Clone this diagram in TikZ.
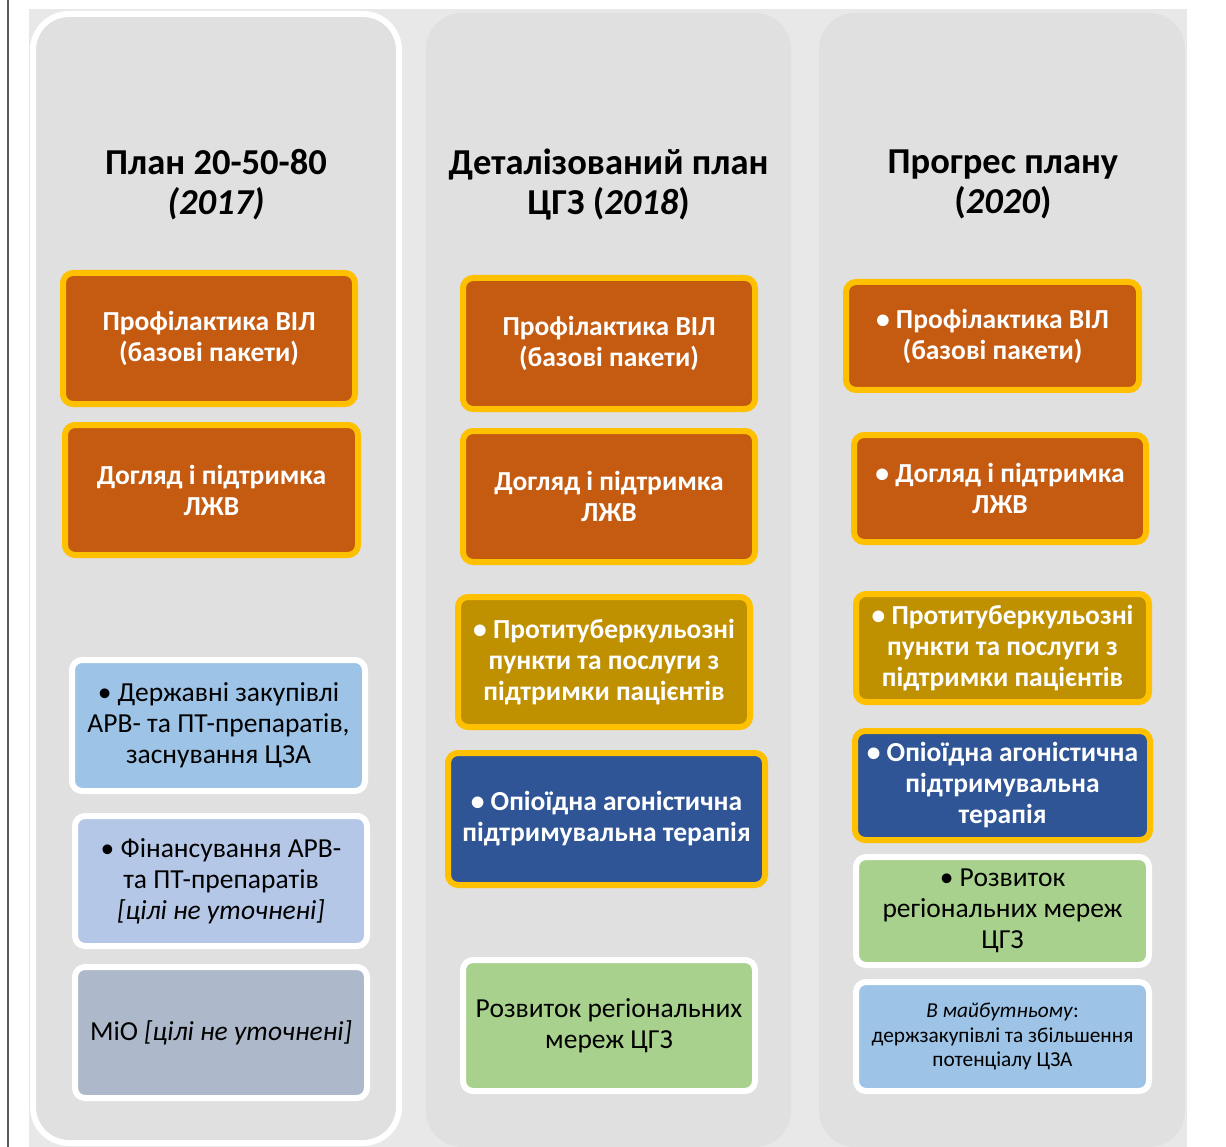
\documentclass[tikz,border=0pt]{standalone}
\usepackage{fontspec}
\setmainfont{Carlito}
\definecolor{bgg}{HTML}{E8E8E8}
\definecolor{colg}{HTML}{E0E0E0}
\definecolor{orng}{HTML}{C55A11}
\definecolor{ybord}{HTML}{FFC000}
\definecolor{gold}{HTML}{BF9000}
\definecolor{dblue}{HTML}{2F5597}
\definecolor{grn}{HTML}{A9D18E}
\definecolor{lblue}{HTML}{9DC3E6}
\definecolor{pblue}{HTML}{B4C7E7}
\definecolor{sblue}{HTML}{ADB9CA}
\definecolor{lineg}{HTML}{5A5A5A}
\begin{document}
\begin{tikzpicture}[x=1pt,y=-1pt,
  box/.style={rounded corners=10pt, line width=6pt, align=center, inner sep=0pt},
  hot/.style={box, draw=ybord, text=white, font=\fontsize{27.5}{31}\selectfont\bfseries},
  cool/.style={box, draw=white, text=black, font=\fontsize{27.5}{31}\selectfont},
  small/.style={box, draw=white, text=black, font=\fontsize{21.3}{24}\selectfont},
  title/.style={align=center, inner sep=0pt, text=black, font=\fontsize{36.5}{40}\selectfont\bfseries},
  column/.style={rounded corners=36pt}]
\useasboundingbox (0,0) rectangle (1226,1147);
\fill[white] (0,0) rectangle (1226,1147);
\fill[bgg] (29,9) rectangle (1187,1147);
\draw[lineg, line width=2pt] (8,0) -- (8,1147);
% columns
\draw[column, fill=colg, draw=white, line width=6pt] (33,14) rectangle (399,1143);
\fill[column, colg] (426,13) rectangle (791,1147);
\fill[column, colg] (819,13) rectangle (1185,1147);
% titles
\node[title] (t1) at (216,184.5) {План 20-50-80\\\textit{(2017)}};
\node[title] (t2) at (608.5,184.5) {Деталізований план\\ЦГЗ (\textit{2018})};
\node[title] (t3) at (1003,184.5) {Прогрес плану\\(\textit{2020})};
% column 1
\node[hot, fill=orng, minimum width=292pt, minimum height=131pt] (a1) at (209,338.5) {Профілактика ВІЛ\\(базові пакети)};
\node[hot, fill=orng, minimum width=293pt, minimum height=130pt] (a2) at (211.5,490) {Догляд і підтримка\\ЛЖВ};
\node[cool, fill=lblue, minimum width=293pt, minimum height=131pt] (a3) at (218.5,725.5) {• Державні закупівлі\\АРВ- та ПТ-препаратів,\\заснування ЦЗА};
\node[cool, fill=pblue, minimum width=292pt, minimum height=130pt] (a4) at (221,881) {• Фінансування АРВ-\\та ПТ-препаратів\\\textit{[цілі не уточнені]}};
\node[cool, fill=sblue, minimum width=292pt, minimum height=131pt] (a5) at (221,1032.5) {МіО \textit{[цілі не уточнені]}};
% column 2
\node[hot, fill=orng, minimum width=292pt, minimum height=131pt] (b1) at (609,343.5) {Профілактика ВІЛ\\(базові пакети)};
\node[hot, fill=orng, minimum width=292pt, minimum height=131pt] (b2) at (609,496.5) {Догляд і підтримка\\ЛЖВ};
\node[hot, fill=gold, minimum width=292pt, minimum height=130pt] (b3) at (604,662) {• Протитуберкульозні\\пункти та послуги з\\підтримки пацієнтів};
\node[hot, fill=dblue, minimum width=317pt, minimum height=132pt] (b4) at (606.5,819) {• Опіоїдна агоністична\\підтримувальна терапія};
\node[cool, fill=grn, minimum width=292pt, minimum height=131pt] (b5) at (609,1025.5) {Розвиток регіональних\\мереж ЦГЗ};
% column 3
\node[hot, fill=orng, minimum width=293pt, minimum height=108pt] (c1) at (992.5,336) {• Профілактика ВІЛ\\(базові пакети)};
\node[hot, fill=orng, minimum width=292pt, minimum height=107pt] (c2) at (1000,488.5) {• Догляд і підтримка\\ЛЖВ};
\node[hot, fill=gold, minimum width=293pt, minimum height=108pt] (c3) at (1002.5,648) {• Протитуберкульозні\\пункти та послуги з\\підтримки пацієнтів};
\node[hot, fill=dblue, minimum width=295pt, minimum height=109pt] (c4) at (1002.5,785.5) {• Опіоїдна агоністична\\підтримувальна\\терапія};
\node[cool, fill=grn, minimum width=293pt, minimum height=108pt] (c5) at (1002.5,911) {• Розвиток\\регіональних мереж\\ЦГЗ};
\node[small, fill=lblue, minimum width=293pt, minimum height=109pt] (c6) at (1002.5,1036.5) {\textit{В майбутньому}:\\держзакупівлі та збільшення\\потенціалу ЦЗА};
\end{tikzpicture}
\end{document}
